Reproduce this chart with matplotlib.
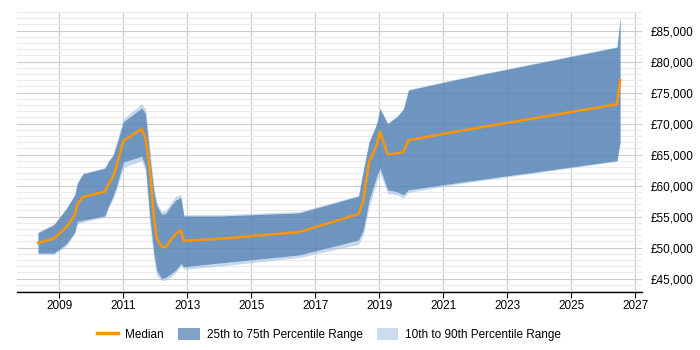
import matplotlib
matplotlib.use("Agg")
import matplotlib.pyplot as plt
import matplotlib.patches as mpatches
from matplotlib.lines import Line2D
from matplotlib.ticker import MultipleLocator, FuncFormatter

# Data (decimal years)
dates = [2008.34, 2008.84, 2009.23, 2009.49, 2009.57, 2009.75, 2010.43, 2010.53,
         2010.69, 2010.79, 2011.01, 2011.58, 2011.70, 2011.83, 2011.96, 2012.05,
         2012.20, 2012.33, 2012.50, 2012.65, 2012.80, 2012.90, 2014.00, 2016.50,
         2018.35, 2018.50, 2018.68, 2018.92, 2019.02, 2019.26, 2019.55, 2019.75,
         2019.91, 2021.50, 2026.42, 2026.52]

median = [50750, 51460, 53300, 55230, 57000, 58180, 59000, 60100,
          61500, 63000, 67200, 69100, 67600, 63000, 55000, 51500,
          50200, 50000, 51300, 52200, 52800, 51100, 51400, 52500,
          55400, 57500, 63800, 66500, 68700, 65000, 65200, 65400,
          67300, 68800, 73100, 77000]

p75 = [52400, 53700, 56300, 58500, 60400, 61900, 62800, 63800,
       64900, 66500, 70300, 72500, 71600, 65000, 59000, 56800,
       55400, 55500, 56800, 57700, 58100, 55100, 55100, 55600,
       58300, 62500, 67000, 70000, 72400, 70000, 71100, 72300,
       75400, 77200, 82300, 87000]

p25 = [49100, 49100, 50600, 52500, 54200, 54400, 55100, 56500,
       58300, 59800, 63800, 64700, 63000, 55000, 49000, 46300,
       45000, 45200, 45800, 46400, 47400, 46900, 47500, 48800,
       51200, 52800, 57600, 61500, 62800, 59300, 59000, 58500,
       59300, 60500, 64000, 67000]

p90 = [52500, 53800, 56400, 58600, 60500, 62000, 62900, 63900,
       65100, 66900, 70800, 73200, 72400, 66000, 60000, 57300,
       55800, 56000, 57300, 58300, 58600, 55300, 55300, 55800,
       58400, 62600, 67100, 70100, 72500, 70100, 71200, 72400,
       75500, 77300, 82400, 87100]

p10 = [48900, 48900, 50300, 52200, 53800, 54100, 54900, 56200,
       57900, 59300, 62900, 64000, 62300, 54000, 48000, 45500,
       44700, 44800, 45300, 46000, 47000, 46500, 47000, 48400,
       50500, 52000, 56500, 60500, 62000, 58700, 58500, 58000,
       58900, 60300, 63900, 66900]

ORANGE = "#FF9500"
DARK = "#5684b5"
LIGHT = "#a2c0e3"

plt.rcParams['font.family'] = ['Liberation Sans', 'DejaVu Sans']

fig = plt.figure(figsize=(7, 3.5), dpi=100)
ax = fig.add_axes([0.024, 0.166, 0.893, 0.800])

# light band only outside the dark one, both see-through so the grid shows
ax.fill_between(dates, p10, p25, color=LIGHT, alpha=0.6, linewidth=0, zorder=2)
ax.fill_between(dates, p75, p90, color=LIGHT, alpha=0.6, linewidth=0, zorder=2)
ax.fill_between(dates, p25, p75, color=DARK, alpha=0.85, linewidth=0, zorder=3)
ax.plot(dates, median, color=ORANGE, linewidth=1.8, zorder=4)

ax.set_xlim(2007.68, 2027.2)
ax.set_ylim(42850, 88000)

ax.set_xticks([2009 + 2 * i for i in range(10)])
ax.xaxis.set_major_formatter(FuncFormatter(lambda v, p: f"{int(round(v))}"))

ax.yaxis.set_major_locator(MultipleLocator(5000))
ax.yaxis.set_minor_locator(MultipleLocator(1000))
ax.yaxis.set_major_formatter(FuncFormatter(lambda v, p: f"£{int(v):,}"))
ax.yaxis.tick_right()

ax.grid(axis='x', which='major', color='#cccccc', linewidth=0.8, zorder=0)
ax.grid(axis='y', which='major', color='#cccccc', linewidth=0.8, zorder=0)
ax.grid(axis='y', which='minor', color='#eaeaea', linewidth=0.8, zorder=0)
ax.set_axisbelow(True)

for s in ['top', 'left', 'right']:
    ax.spines[s].set_visible(False)
ax.spines['bottom'].set_color('black')
ax.spines['bottom'].set_linewidth(1.0)

ax.tick_params(axis='x', length=4, color='black', labelsize=8.5, pad=2)
ax.tick_params(axis='y', which='both', length=0, labelsize=8.5, pad=6)

handles = [
    Line2D([0], [0], color=ORANGE, linewidth=2.5, label='Median'),
    mpatches.Patch(facecolor=DARK, alpha=0.75, label='25th to 75th Percentile Range'),
    mpatches.Patch(facecolor=LIGHT, alpha=0.55, label='10th to 90th Percentile Range'),
]
fig.legend(handles=handles, loc='center', bbox_to_anchor=(0.47, 0.045), ncol=3,
           frameon=False, fontsize=8.5, handlelength=1.8, handleheight=1.2,
           columnspacing=1.2, handletextpad=0.6)

fig.savefig("out.png", dpi=100)
